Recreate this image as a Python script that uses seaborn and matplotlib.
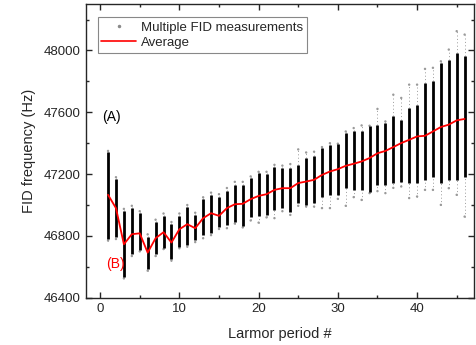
import numpy as np
import matplotlib
matplotlib.use("Agg")
import matplotlib.pyplot as plt
from matplotlib.lines import Line2D
from matplotlib.ticker import MultipleLocator
import seaborn as sns

# Larmor period index
period = list(range(1, 47))

# average FID frequency per period (Hz)
average = [47066, 46980, 46746, 46811, 46817, 46692, 46785, 46824, 46757, 46843,
           46876, 46850, 46915, 46947, 46930, 46980, 47005, 47008, 47038, 47059,
           47070, 47098, 47109, 47109, 47142, 47152, 47163, 47195, 47217, 47232,
           47254, 47267, 47282, 47304, 47335, 47350, 47375, 47401, 47422, 47444,
           47448, 47476, 47505, 47520, 47548, 47557]

# dense part of the measurement column (Hz)
core_hi = [47343, 47168, 46962, 46980, 46947, 46795, 46893, 46930, 46878, 46930,
           46990, 46936, 47038, 47066, 47051, 47092, 47131, 47131, 47174, 47206,
           47202, 47249, 47240, 47239, 47260, 47304, 47319, 47369, 47390, 47395,
           47466, 47476, 47476, 47509, 47520, 47530, 47573, 47552, 47628, 47649,
           47790, 47800, 47920, 47941, 47984, 47962]
core_lo = [46780, 46795, 46536, 46681, 46709, 46586, 46681, 46724, 46649, 46730,
           46742, 46774, 46806, 46821, 46860, 46871, 46893, 46865, 46921, 46930,
           46936, 46969, 46980, 46958, 47012, 47001, 47012, 47055, 47066, 47066,
           47109, 47098, 47098, 47087, 47131, 47131, 47142, 47152, 47142, 47142,
           47163, 47184, 47142, 47163, 47163, 47184]

# sparse outlying measurements (Hz)
tail_hi = [47350, 47180, 46975, 46995, 46960, 46810, 46905, 46945, 46890, 46945,
           47000, 46950, 47050, 47080, 47070, 47110, 47150, 47150, 47185, 47215,
           47215, 47260, 47255, 47265, 47360, 47340, 47345, 47375, 47400, 47397,
           47476, 47498, 47515, 47513, 47622, 47541, 47714, 47693, 47779, 47779,
           47881, 47888, 47930, 48006, 48125, 48103]
tail_lo = [46770, 46780, 46525, 46670, 46700, 46575, 46670, 46715, 46640, 46720,
           46730, 46760, 46785, 46805, 46845, 46850, 46880, 46855, 46900, 46886,
           46920, 46915, 46960, 46936, 46995, 46990, 46990, 46980, 46980, 47040,
           46995, 47051, 47033, 47077, 47090, 47077, 47111, 47120, 47045, 47055,
           47098, 47098, 47001, 47109, 47066, 46925]

sns.set_style("ticks")
plt.rcParams["font.family"] = ["Liberation Sans", "DejaVu Sans"]

fig, ax = plt.subplots(figsize=(4.77, 3.45), dpi=100)
fig.subplots_adjust(left=0.180, right=0.994, top=0.988, bottom=0.137)

# sparse tails as dotted grey columns plus grey extreme points
tail_col = "#9a9a9a"
ax.vlines(period, tail_lo, core_lo, color=tail_col, lw=0.7, linestyles=(0, (1, 2.5)))
ax.vlines(period, core_hi, tail_hi, color=tail_col, lw=0.7, linestyles=(0, (1, 2.5)))
sns.scatterplot(x=period + period, y=tail_lo + tail_hi, ax=ax, color=tail_col,
                s=3, marker="o", edgecolor="none", legend=False)
# dense core
ax.vlines(period, core_lo, core_hi, color="black", lw=2.0)

sns.lineplot(x=period, y=average, ax=ax, color="red", lw=1.3)

ax.set_xlim(-1.8, 47.2)
ax.set_ylim(46400, 48300)
ax.xaxis.set_major_locator(MultipleLocator(10))
ax.xaxis.set_minor_locator(MultipleLocator(5))
ax.yaxis.set_major_locator(MultipleLocator(400))
ax.yaxis.set_minor_locator(MultipleLocator(200))
ax.tick_params(which="both", direction="in", top=True, right=True, labelsize=9.5)
ax.tick_params(which="major", length=4.5, width=1)
ax.tick_params(which="minor", length=2.5, width=1)
for s in ax.spines.values():
    s.set_linewidth(1.0)

ax.set_xlabel("Larmor period #", fontsize=10.5, labelpad=9)
ax.set_ylabel("FID frequency (Hz)", fontsize=10.5, labelpad=6)

ax.text(0.2, 47570, "(A)", fontsize=10, color="black", va="center")
ax.text(0.8, 46618, "(B)", fontsize=10, color="red", va="center")

handles = [Line2D([], [], ls="none", marker=".", color="#8a8a8a", markersize=3),
           Line2D([], [], color="red", lw=1.2)]
leg = ax.legend(handles, ["Multiple FID measurements", "Average"],
                loc="upper left", bbox_to_anchor=(0.030, 0.955), fontsize=9.5,
                frameon=True, fancybox=False, framealpha=1, edgecolor="#888888",
                borderpad=0.3, labelspacing=0.25, handlelength=2.6,
                handletextpad=0.4, borderaxespad=0)
leg.get_frame().set_linewidth(0.8)

fig.savefig("out.png", dpi=100)
